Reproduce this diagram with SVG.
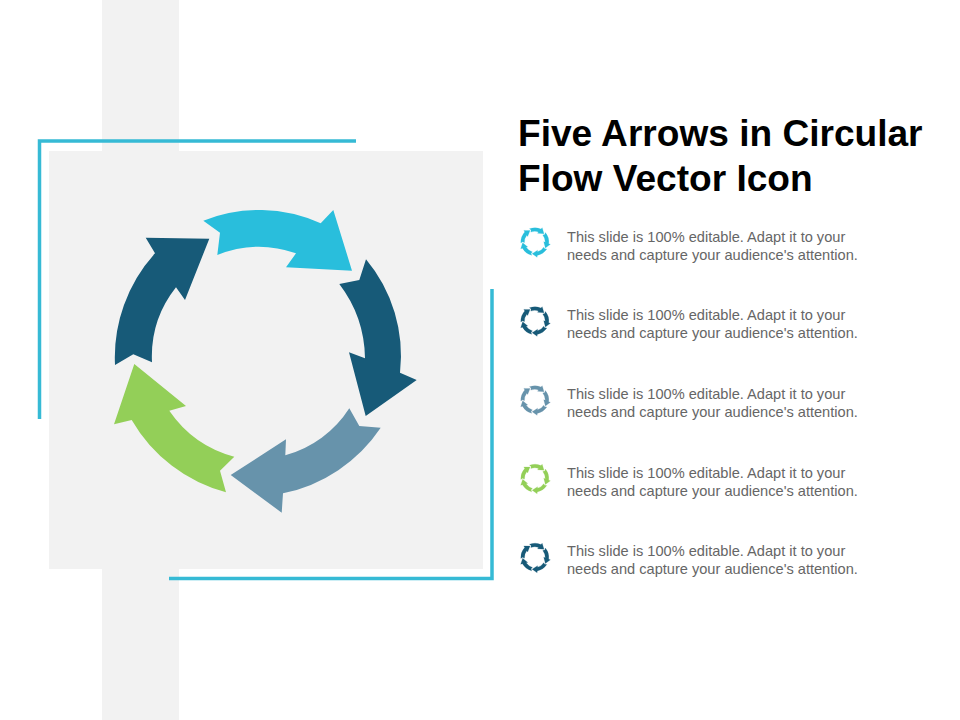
<svg xmlns="http://www.w3.org/2000/svg" xmlns:xlink="http://www.w3.org/1999/xlink" width="960" height="720" viewBox="0 0 960 720">
<style>
.bg{fill:#f2f2f2}
.frame{fill:none;stroke:#36bad5;stroke-width:3.500}
.title{font:bold 37.100px "Liberation Sans",Arial,sans-serif;fill:#000}
.body{font:14.600px "Liberation Sans",Arial,sans-serif;fill:#666}
.cyan{fill:#29bedc}.dark{fill:#175a78}.slate{fill:#6793ab}.green{fill:#93cf58}
.ic{stroke-width:2}
.ic.cyan{stroke:#29bedc}.ic.dark{stroke:#175a78}.ic.slate{stroke:#6793ab}.ic.green{stroke:#93cf58}
</style>
<defs>
<path id="a1" d="M203.300,220.700A150,150 0 0 1 320.700,223.300L333.300,210L352,270.700L286,267.300L296,253.300A112,112 0 0 0 217.300,255L220,232.700Z"/>
<path id="a2" d="M366,259.300A150,150 0 0 1 400,372.700L416.700,380L365.700,416L349,352.300L365,358.300A125,125 0 0 0 339.300,284L359.300,280Z"/>
<path id="a3" d="M380.700,427.700A155,155 0 0 1 283,493.300L281.700,512.700L230.700,475L286,439.300L285.300,455.300A110,110 0 0 0 349.300,408.300L359.300,426Z"/>
<path id="a4" d="M226,492.300A155,155 0 0 1 131.700,420L114,424.300L134.300,364L186,406L169.300,410.700A115,115 0 0 0 234.300,456.700L220,470.700Z"/>
<path id="a5" d="M115,365A155,155 0 0 1 155,253.300L145.700,237.700L209.300,238.700L185,300L176,287.300A112,112 0 0 0 152,362.300L133.300,354.300Z"/>
<g id="ring"><use xlink:href="#a1"/><use xlink:href="#a2"/><use xlink:href="#a3"/><use xlink:href="#a4"/><use xlink:href="#a5"/></g>
</defs>
<rect width="960" height="720" fill="#fff"/>
<rect class="bg" x="102" y="0" width="77" height="720"/>
<rect x="41" y="143" width="450" height="434" fill="#fff"/>
<rect class="bg" x="102" y="143" width="77" height="8"/>
<rect class="bg" x="102" y="569" width="77" height="8"/>
<rect class="bg" x="49" y="151" width="434" height="418"/>
<g id="connectors">
<path class="frame" d="M356,141H39.500V419"/>
<path class="frame" d="M492,289V578.500H169"/>
</g>
<g id="main-arrows">
<use id="arrow-1" xlink:href="#a1" class="cyan"/>
<use id="arrow-2" xlink:href="#a2" class="dark"/>
<use id="arrow-3" xlink:href="#a3" class="slate"/>
<use id="arrow-4" xlink:href="#a4" class="green"/>
<use id="arrow-5" xlink:href="#a5" class="dark"/>
</g>
<g id="title"><text class="title" x="518" y="146">Five Arrows in Circular</text><text class="title" x="518" y="191">Flow Vector Icon</text></g>
<g id="item-1"><use xlink:href="#ring" class="ic cyan" transform="translate(535.500,242.500) scale(.098) translate(-265,-361)"/><text class="body" x="567" y="242">This slide is 100% editable. Adapt it to your</text><text class="body" x="567" y="260">needs and capture your audience's attention.</text></g>
<g id="item-2"><use xlink:href="#ring" class="ic dark" transform="translate(535.500,321.500) scale(.098) translate(-265,-361)"/><text class="body" x="567" y="320">This slide is 100% editable. Adapt it to your</text><text class="body" x="567" y="338">needs and capture your audience's attention.</text></g>
<g id="item-3"><use xlink:href="#ring" class="ic slate" transform="translate(535.500,400.500) scale(.098) translate(-265,-361)"/><text class="body" x="567" y="399">This slide is 100% editable. Adapt it to your</text><text class="body" x="567" y="417">needs and capture your audience's attention.</text></g>
<g id="item-4"><use xlink:href="#ring" class="ic green" transform="translate(535.500,479) scale(.098) translate(-265,-361)"/><text class="body" x="567" y="478">This slide is 100% editable. Adapt it to your</text><text class="body" x="567" y="496">needs and capture your audience's attention.</text></g>
<g id="item-5"><use xlink:href="#ring" class="ic dark" transform="translate(535.500,558) scale(.098) translate(-265,-361)"/><text class="body" x="567" y="556">This slide is 100% editable. Adapt it to your</text><text class="body" x="567" y="574">needs and capture your audience's attention.</text></g>
</svg>
